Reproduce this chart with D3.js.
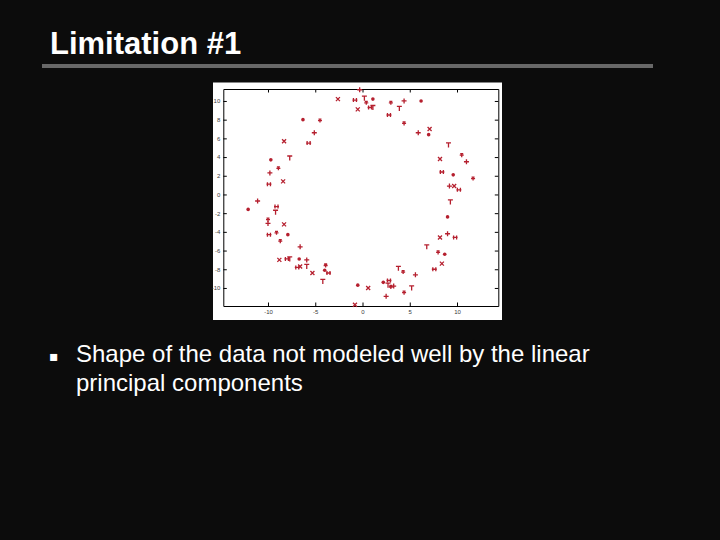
<!DOCTYPE html>
<html>
<head>
<meta charset="utf-8">
<script src="https://cdn.jsdelivr.net/npm/d3@7/dist/d3.min.js"></script>
<style>
  html, body { margin: 0; padding: 0; background: #0c0c0c; }
  svg { display: block; }
</style>
</head>
<body>
<svg id="slide" width="720" height="540"></svg>
<script>
// ---- data ----
const titleText = "Limitation #1";
const bulletLines = ["Shape of the data not modeled well by the linear", "principal components"];
const xTicks = [-10, -5, 0, 5, 10];
const yTicks = [-10, -8, -6, -4, -2, 0, 2, 4, 6, 8, 10];
const xDomain = [-14.73, 14.37];
const yDomain = [-11.93, 11.28];
const pointsX = [
  -0.3, -2.6, -0.8, 0.2, 0.4, 1.1, -0.5, 0.8, 1.1, 3.0, 4.4, 6.2, 2.8, 3.9, 4.4, 5.9, 7.1, 7.0,
  9.1, 10.5, 11.0, 8.2, 8.4, 9.6, 11.7, 9.2, 9.7, 10.2, 9.3, 9.0, 9.0, 8.2, 9.8, 6.8, 8.0, 8.7,
  8.4, 7.6, 3.8, 4.3, 5.6, 2.2, 2.8, 2.7, 3.0, 3.3, 0.6, -0.5, 5.2, 4.4, 2.5, -0.8,
  -9.9, -7.9, -8.7, -6.6, -8.8, -8.0, -7.7, -6.7, -5.9, -6.6, -6.9, -5.9, -3.9, -4.0, -5.3, -3.6,
  -4.2, -9.1, -11.1, -12.1, -9.1, -9.2, -10.0, -10.0, -8.3, -9.7, -7.7, -8.9, -9.8, -8.4, -9.9,
  -6.3, -4.5, -5.1, -8.3, -5.7
];
const pointsY = [
  11.2, 10.2, 10.1, 10.3, 9.8, 10.2, 9.1, 9.3, 9.3, 9.8, 10.0, 10.0, 8.5, 9.2, 7.6, 6.6, 7.0, 6.4,
  5.3, 4.2, 3.5, 3.8, 2.4, 2.1, 1.7, 0.9, 0.9, 0.5, -0.8, -2.4, -4.2, -4.6, -4.6, -5.6, -6.2, -6.4,
  -7.4, -8.0, -7.9, -8.3, -8.6, -9.4, -9.2, -9.7, -9.9, -9.8, -10.0, -9.7, -10.0, -10.5, -10.9, -11.8,
  -4.3, -4.3, -5.0, -5.6, -7.0, -6.9, -6.9, -6.9, -7.0, -7.7, -7.8, -7.7, -7.6, -8.1, -8.4, -8.4,
  -9.3, -4.1, -0.7, -1.6, -1.3, -1.9, -2.7, -3.1, -3.2, 3.7, 3.9, 2.8, 2.3, 1.4, 1.1,
  8.0, 7.9, 6.6, 5.7, 5.5
];

// ---- drawing ----
const svg = d3.select("#slide");
const font = "'Liberation Sans', Arial, sans-serif";

svg.append("rect").attr("x", 0).attr("y", 0).attr("width", 720).attr("height", 540).attr("fill", "#0c0c0c");

svg.append("text").attr("x", 50).attr("y", 54)
  .attr("fill", "#ffffff").attr("font-family", font).attr("font-weight", "bold")
  .attr("font-size", 31).text(titleText);

svg.append("rect").attr("x", 42).attr("y", 64).attr("width", 611).attr("height", 4).attr("fill", "#686868");

// bullet
svg.append("text").attr("x", 49).attr("y", 361)
  .attr("fill", "#ffffff").attr("font-family", "'DejaVu Sans', sans-serif")
  .attr("font-size", 14).text("\u25AA");
const bt = svg.append("text").attr("font-family", font).attr("font-size", 24).attr("fill", "#ffffff");
bulletLines.forEach((t, i) => {
  bt.append("tspan").attr("x", 76).attr("y", 362 + i * 29).text(t);
});

// figure image area
svg.append("rect").attr("x", 213).attr("y", 82.5).attr("width", 289).attr("height", 237.5).attr("fill", "#ffffff");

const x = d3.scaleLinear().domain(xDomain).range([223.3, 498.3]);
const y = d3.scaleLinear().domain(yDomain).range([306, 89]);
const fmt = d => String(d);

function styleAxis(g) {
  g.selectAll("path.domain").attr("stroke", "#000").attr("stroke-width", 1);
  g.selectAll(".tick line").attr("stroke", "#000").attr("stroke-width", 1);
  g.selectAll(".tick text").attr("fill", "#3a3a3a").attr("font-family", font).attr("font-size", 6);
}

svg.append("g").attr("transform", `translate(0,${y.range()[0]})`)
  .call(d3.axisBottom(x).tickValues(xTicks).tickFormat(fmt).tickSizeInner(-3.5).tickSizeOuter(0).tickPadding(4))
  .call(styleAxis);
svg.append("g").attr("transform", `translate(0,${y.range()[1]})`)
  .call(d3.axisTop(x).tickValues(xTicks).tickFormat("").tickSizeInner(-3.5).tickSizeOuter(0))
  .call(styleAxis);
svg.append("g").attr("transform", `translate(${x.range()[0]},0)`)
  .call(d3.axisLeft(y).tickValues(yTicks).tickFormat(fmt).tickSizeInner(-3.5).tickSizeOuter(0).tickPadding(3))
  .call(styleAxis);
svg.append("g").attr("transform", `translate(${x.range()[1]},0)`)
  .call(d3.axisRight(y).tickValues(yTicks).tickFormat("").tickSizeInner(-3.5).tickSizeOuter(0))
  .call(styleAxis);

// markers
const pts = pointsX.map((v, i) => ({ x: v, y: pointsY[i], i }));
const red = "#b51f2e";
const shapes = [
  "M-2.5,0H2.5M0,-2.5V2.5",
  "M-2,-2L2,2M-2,2L2,-2",
  "M-2.5,0H2.5M-1.5,-2V2M1.5,-2V2",
  "M-2.5,-2H2.5M0,-2V2.5",
  "M-2,0H2M0,-2V2M-1.5,-1.5H1.5"
];
const mk = svg.append("g");
pts.forEach(p => {
  const g = mk.append("g").attr("transform", `translate(${x(p.x)},${y(p.y)})`);
  if (p.i % 6 === 5) {
    g.append("circle").attr("r", 1.8).attr("fill", red);
  } else {
    g.append("path").attr("d", shapes[p.i % 5]).attr("stroke", red).attr("stroke-width", 1.3).attr("fill", "none");
  }
});
</script>
</body>
</html>
